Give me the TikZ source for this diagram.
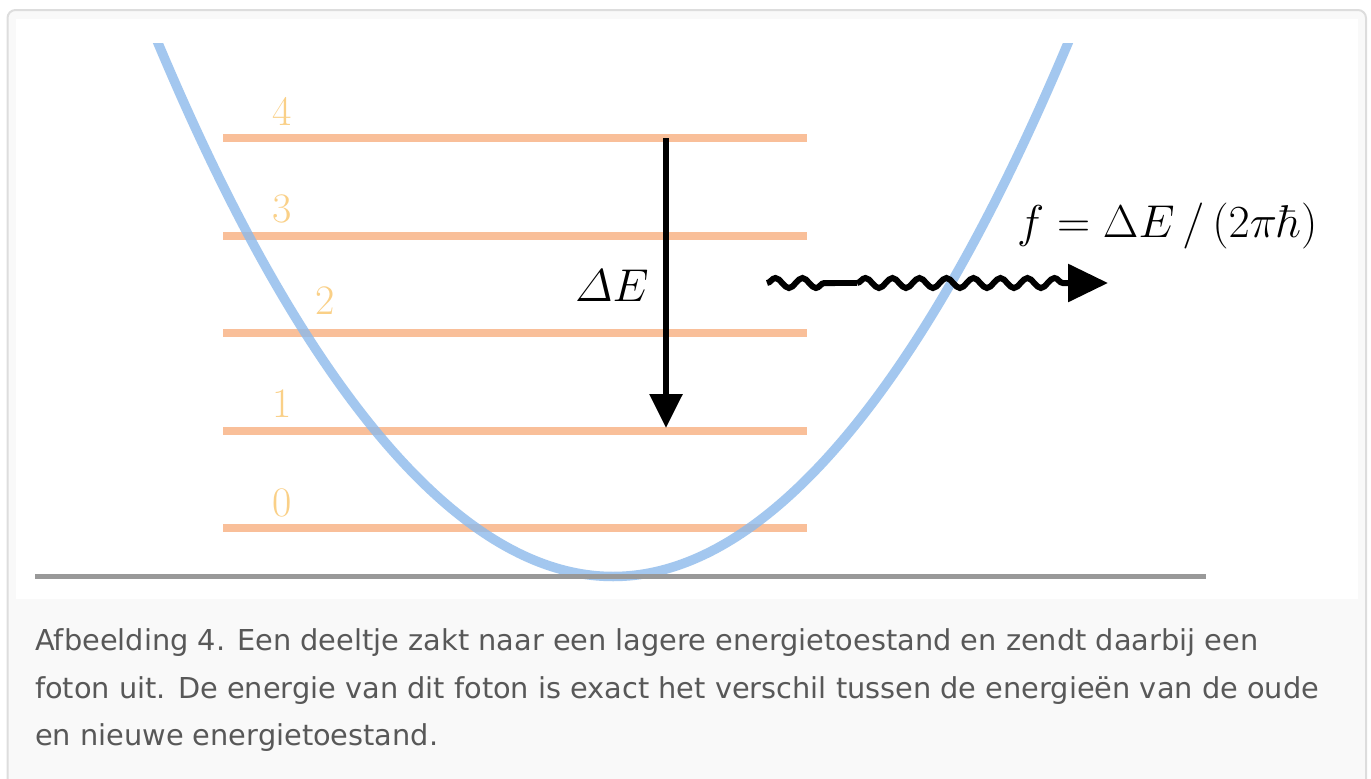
\documentclass[tikz,border=0pt]{standalone}
\usepackage{fix-cm}
\usepackage[no-math]{fontspec}
\newfontfamily\capfont{DejaVu Sans}
\usetikzlibrary{arrows.meta,decorations.pathmorphing}
\definecolor{framegray}{RGB}{221,221,221}
\definecolor{panelbg}{RGB}{249,249,249}
\definecolor{curveblue}{RGB}{140,185,235}
\definecolor{levelorange}{RGB}{247,170,120}
\definecolor{labelorange}{RGB}{250,208,135}
\definecolor{basegray}{RGB}{153,153,153}
\definecolor{captiongray}{RGB}{88,88,88}
\begin{document}
\begin{tikzpicture}[x=1pt,y=-1pt,
  level/.style={draw=levelorange, line width=8pt, opacity=0.75},
  curve/.style={draw=curveblue, line width=9.5pt, opacity=0.8},
  levellabel/.style={text=labelorange, font=\fontsize{42}{42}\selectfont, anchor=base, inner sep=0pt},
  captionline/.style={text=captiongray, font=\capfont\fontsize{28.8}{28.8}\selectfont, anchor=base west, inner sep=0pt},
  mathlabel/.style={font=\fontsize{46}{46}\selectfont, inner sep=0pt, anchor=base},
  thickarrow/.style={line width=6pt, -{Triangle[length=34pt,width=32pt]}},
  wave/.style={line width=6pt, decorate, decoration={snake, segment length=27pt, amplitude=5pt}}]
\useasboundingbox (0,0) rectangle (1371,779);
\fill[panelbg, draw=framegray, line width=2pt, rounded corners=8pt] (7.5,10) rectangle (1366,820);
\fill[white] (16,19) rectangle (1358,599);
% energy levels
\foreach \i/\y in {0/528,1/430.5,2/333,3/235.5,4/138} {
  \coordinate (Lw\i) at (223,\y);
  \coordinate (Le\i) at (807,\y);
  \draw[level] (Lw\i) -- (Le\i);
}
\node[levellabel] (lab4) at (282,125) {4};
\node[levellabel] (lab3) at (282,222) {3};
\node[levellabel] (lab2) at (325,314) {2};
\node[levellabel] (lab1) at (282,417) {1};
\node[levellabel] (lab0) at (282,516) {0};
% potential
\begin{scope}
  \clip (0,43) rectangle (1371,800);
  \coordinate (pl) at (152.5,30);
  \coordinate (pv) at (613,576.5);
  \coordinate (pr) at (1073.5,30);
  \draw[curve] (pl) parabola bend (pv) (pr);
\end{scope}
% baseline
\coordinate (bw) at (35,576.5);
\coordinate (be) at (1206,576.5);
\draw[basegray, line width=5pt] (bw) -- (be);
% transition arrow
\coordinate (arrtop) at (666,138);
\coordinate (arrtip) at (666,428);
\draw[thickarrow] (arrtop) -- (arrtip);
\node[mathlabel] (dE) at (612,301) {$\mathnormal{\Delta} E$};
% photon
\coordinate (w0) at (767,283);
\coordinate (w1) at (835,283);
\coordinate (w2) at (857,283);
\coordinate (w3) at (1108,283);
\draw[wave] (w0) -- (w1);
\draw[line width=6pt] (w1) -- (w2);
\draw[wave, decoration={post length=42pt}, -{Triangle[length=40pt,width=37pt]}] (w2) -- (w3);
\node[mathlabel, anchor=base west] (form) at (1017,237) {$f = \Delta E\,/\,(2\pi\hbar)$};
% caption
\node[captionline] (cap1) at (35,650) {Afbeelding 4. Een deeltje zakt naar een lagere energietoestand en zendt daarbij een};
\node[captionline] (cap2) at (35,698) {foton uit. De energie van dit foton is exact het verschil tussen de energieën van de oude};
\node[captionline] (cap3) at (35,745) {en nieuwe energietoestand.};
\end{tikzpicture}
\end{document}
